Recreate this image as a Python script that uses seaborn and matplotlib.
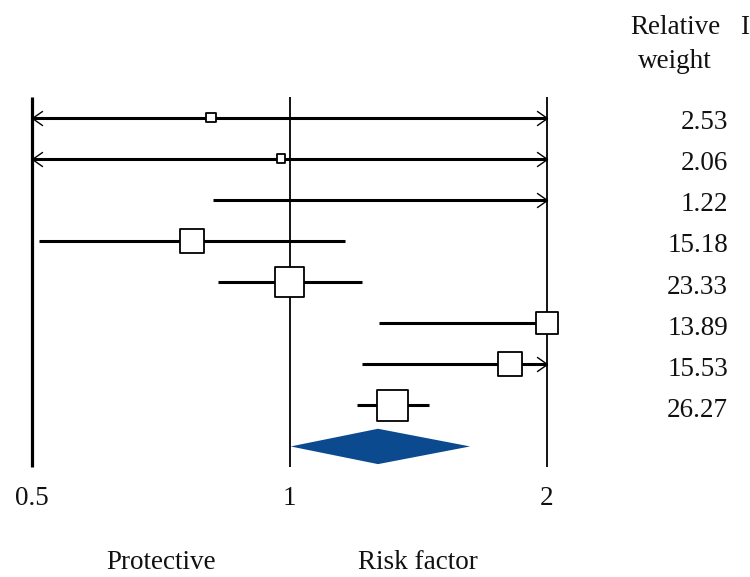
import numpy as np
import pandas as pd
import matplotlib
matplotlib.use("Agg")
import matplotlib.pyplot as plt
import matplotlib.transforms as mtransforms
from matplotlib.path import Path
import seaborn as sns

# Study-level results (ratio scale) and their relative weights (%)
weights = [2.53, 2.06, 1.22, 15.18, 23.33, 13.89, 15.53, 26.27]
estimates = [0.81, 0.977, 2.35, 0.769, 1.0, 2.0, 1.81, 1.32]
lower = [0.21, 0.27, 0.814, 0.509, 0.825, 1.273, 1.215, 1.199]
upper = [3.1, 3.5, 6.8, 1.161, 1.215, 3.05, 2.7, 1.456]

# Pooled result drawn as a diamond
pooled_est = 1.269
pooled_lower = 1.003
pooled_upper = 1.626

scale_ticks = [0.5, 1, 2]
tick_labels = ["0.5", "1", "2"]
side_labels = ["Protective", "Risk factor"]
weight_header = ["Relative", "weight"]

sns.set_theme(style="white")
plt.rcParams["font.family"] = ["Liberation Serif", "DejaVu Serif"]
FS = 19.5

W, H = 750, 577
fig = plt.figure(figsize=(W / 100, H / 100), dpi=100)
fig.patch.set_facecolor("white")

# axes spans the plotting band between the 0.5 and 2 reference lines
top_px, bot_px = 97, 467
left_px, right_px = 32, 547
ax = fig.add_axes([left_px / W, (H - bot_px) / H,
                   (right_px - left_px) / W, (bot_px - top_px) / H])
ax.set_xscale("log", base=2)
xmin, xmax = scale_ticks[0], scale_ticks[-1]
n = len(weights)

rows = np.arange(1, n + 1)
df = pd.DataFrame({"row": rows, "est": estimates, "lo": lower,
                   "hi": upper, "weight": weights})

# reference lines at 0.5, 1 and 2
ax.vlines(scale_ticks, 0.5, n + 1.5, colors="black",
          linewidths=[2.3, 1.3, 1.3], clip_on=False, zorder=1)

# confidence intervals, truncated at the plotting range
lo_c = df["lo"].clip(lower=xmin)
hi_c = df["hi"].clip(upper=xmax)
ax.hlines(df["row"], lo_c, hi_c, colors="black", linewidth=2.2,
          clip_on=False, zorder=2)

# open chevrons where an interval runs past the range
right_head = Path([(-1.0, 0.7), (0.0, 0.0), (-1.0, -0.7)],
                  [Path.MOVETO, Path.LINETO, Path.LINETO])
left_head = Path([(1.0, 0.7), (0.0, 0.0), (1.0, -0.7)],
                 [Path.MOVETO, Path.LINETO, Path.LINETO])
over = df[df["hi"] > xmax]
under = df[df["lo"] < xmin]
ax.plot(np.full(len(over), xmax), over["row"], linestyle="none",
        marker=right_head, markersize=15, markerfacecolor="none",
        markeredgecolor="black", markeredgewidth=1.0, clip_on=False, zorder=2)
ax.plot(np.full(len(under), xmin), under["row"], linestyle="none",
        marker=left_head, markersize=15, markerfacecolor="none",
        markeredgecolor="black", markeredgewidth=1.0, clip_on=False, zorder=2)

# point estimates: square area proportional to weight
k = 18.7
wmin, wmax = min(weights), max(weights)
inside = df[(df["est"] >= xmin) & (df["est"] <= xmax)]
sns.scatterplot(data=inside, x="est", y="row", size="weight",
                sizes=(k * wmin, k * wmax), size_norm=(wmin, wmax),
                marker="s", color="white", edgecolor="black", linewidth=1.3,
                legend=False, ax=ax, clip_on=False, zorder=4)

# pooled diamond
prow = n + 1
half_h = 0.43
ax.fill([pooled_lower, pooled_est, pooled_upper, pooled_est],
        [prow, prow - half_h, prow, prow + half_h],
        color="#0b4a8e", linewidth=0, clip_on=False, zorder=5)

ax.set_xlim(xmin, xmax)
ax.set_ylim(n + 1.5, 0.5)
ax.set_axis_off()

# scale labels and direction labels
for t, lab in zip(scale_ticks, tick_labels):
    ax.text(t, 10.42, lab, ha="center", va="baseline", fontsize=FS,
            color="#111111", clip_on=False)
mid_left = np.sqrt(scale_ticks[0] * scale_ticks[1])
mid_right = np.sqrt(scale_ticks[1] * scale_ticks[2])
ax.text(mid_left, 11.97, side_labels[0], ha="center", va="baseline",
        fontsize=FS, color="#111111", clip_on=False)
ax.text(mid_right, 11.97, side_labels[1], ha="center", va="baseline",
        fontsize=FS, color="#111111", clip_on=False)

# relative weight column
col_tr = mtransforms.blended_transform_factory(fig.transFigure, ax.transData)
for r, w in zip(rows, weights):
    ax.text(728 / W, r + 0.28, f"{w:.2f}", transform=col_tr, ha="right",
            va="baseline", fontsize=FS, color="#111111", clip_on=False)

fig.text(675 / W, 1 - 34 / H, weight_header[0], ha="center", va="baseline",
         fontsize=FS, color="#111111")
fig.text(675 / W, 1 - 68 / H, weight_header[1], ha="center", va="baseline",
         fontsize=FS, color="#111111")
fig.text(740.5 / W, 1 - 34 / H, "I", ha="left", va="baseline",
         fontsize=FS, color="#111111")

fig.savefig("out.png", dpi=100)
